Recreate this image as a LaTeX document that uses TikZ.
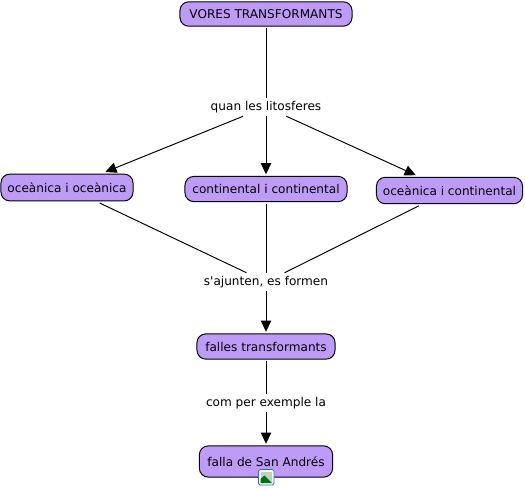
\documentclass[tikz,border=0pt]{standalone}
\usepackage{fontspec}
\setmainfont{DejaVu Sans}
\usetikzlibrary{arrows.meta}
\definecolor{ConceptPurple}{HTML}{BF9BF8}
\definecolor{IconBlue}{HTML}{2F6FB5}
\tikzset{
  concept/.style={draw=black,fill=ConceptPurple,rounded corners=2.2mm,line width=.7pt,font=\fontsize{8.6}{10}\selectfont,inner sep=0pt,outer sep=1.5pt,text height=7pt,text depth=0pt},
  linkword/.style={font=\fontsize{8.6}{10}\selectfont,inner sep=0pt,minimum height=.45cm,text height=6pt,text depth=1.5pt},
  link/.style={line width=.7pt},
  linkarrow/.style={line width=.7pt,-{Triangle[length=2.8mm,width=2.6mm]}}
}
\begin{document}
\begin{tikzpicture}[x=.025cm,y=-.025cm]
  \useasboundingbox (0,0) rectangle (525,489);
  \node[concept,minimum width=4.3cm,minimum height=.61cm] (vores) at (266,14) {VORES TRANSFORMANTS};
  \node[concept,minimum width=3.3cm,minimum height=.67cm] (oo) at (67,187.5) {oceànica i oceànica};
  \node[concept,minimum width=4.05cm,minimum height=.63cm] (cc) at (266,189) {continental i continental};
  \node[concept,minimum width=3.65cm,minimum height=.66cm] (oc) at (449.5,190.5) {oceànica i continental};
  \node[concept,minimum width=3.45cm,minimum height=.63cm] (falles) at (266,346.5) {falles transformants};
  \node[concept,minimum width=3.33cm,minimum height=.78cm] (falla) at (266,461.5) {falla de San Andrés};
  \node[linkword] (quan) at (266,107) {quan les litosferes};
  \node[linkword] (ajunten) at (266,282) {s\textquotesingle ajunten, es formen};
  \node[linkword] (exemple) at (266,403) {com per exemple la};
  \draw[link] (vores) -- (quan); \draw[linkarrow] (quan) -- (oo); \draw[linkarrow] (quan) -- (cc); \draw[linkarrow] (quan) -- (oc);
  \draw[link] (oo) -- (ajunten); \draw[link] (cc) -- (ajunten); \draw[link] (oc) -- (ajunten);
  \draw[linkarrow] (ajunten) -- (falles); \draw[link] (falles) -- (exemple); \draw[linkarrow] (exemple) -- (falla);
  % icon on the last concept
  \fill[white,draw=IconBlue,line width=.6pt,rounded corners=.4mm] (258.5,469.5) rectangle (274,485);
  \fill[IconBlue!35] (260.5,471.5) rectangle (272,483);
  \fill[yellow!80!orange] (268.5,474.5) circle (1.6);
  \fill[green!45!black] (260.5,483) -- (260.5,479) -- (264.5,475.5) -- (272,483) -- cycle;
\end{tikzpicture}
\end{document}
